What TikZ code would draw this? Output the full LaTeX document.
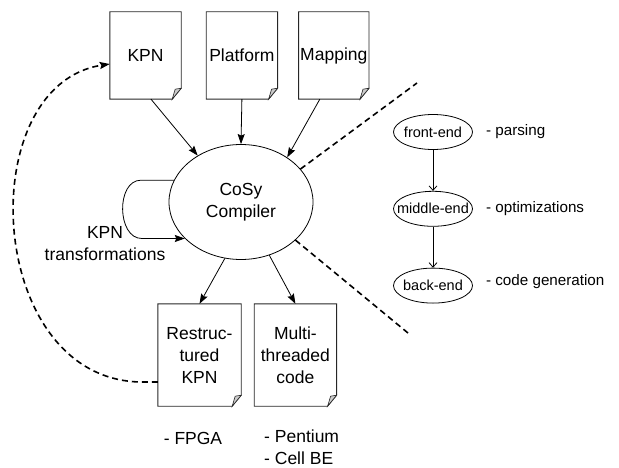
\documentclass[tikz,border=0pt]{standalone}
\usepackage{fontspec}
\setmainfont{Liberation Sans}
\usetikzlibrary{shapes.geometric,arrows.meta,positioning,calc}
\tikzset{
  txt/.style = {inner sep=0pt, align=center, font=\fontsize{17.5pt}{22pt}\selectfont},
  page/.style = {txt, rectangle},
  pageline/.style = {line width=0.9pt, draw=black!85},
  stage/.style = {ellipse, draw, line width=0.8pt, inner sep=0pt, minimum width=79pt, minimum height=35pt},
  note/.style = {inner sep=0pt, font=\fontsize{15.2pt}{18pt}\selectfont},
  every label/.style = {inner sep=0pt, font=\fontsize{14.5pt}{17pt}\selectfont},
  arrow/.style = {line width=0.8pt, -{Stealth[length=10pt,width=7pt,inset=1.5pt]}},
  smallarrow/.style = {line width=0.8pt, -{Straight Barb[length=4.5pt,width=8pt]}},
  feedback/.style = {line width=1.6pt, dash pattern=on 6pt off 4pt}
}
\begin{document}
\begin{tikzpicture}[x=1pt, y=-1pt]
\useasboundingbox (0,0) rectangle (619,468);

% input documents
\node[page, minimum width=71pt, minimum height=87pt] (kpn) at (145.5,55.5) {KPN};
\node[page, minimum width=71pt, minimum height=87pt, right=25pt of kpn] (plat) {Platform};
\node[page, minimum width=70pt, minimum height=87pt, right=21pt of plat] (map) {Mapping};

\node[ellipse, draw, line width=0.8pt, txt, minimum width=144pt, minimum height=115pt] (cosy) at (241,202) {CoSy\\Compiler};

% output documents
\node[page, minimum width=83pt, minimum height=102pt] (rkpn) at (199.5,355) {Restruc-\\tured\\KPN};
\node[page, minimum width=82pt, minimum height=102pt, right=13pt of rkpn] (mtc) {Multi-\\threaded\\code};

\node[txt] (fpga) at (193,438) {- FPGA};
\node[txt, align=left, anchor=west] (cpu) at (264,447.5) {- Pentium\\- Cell BE};
\node[txt] (trans) at (105,244) {KPN\\transformations};

% compiler stages
\node[stage, label=center:front-end] (front) at (433,132) {};
\node[stage, label=center:middle-end, below=41pt of front] (mid) {};
\node[stage, label=center:back-end, below=41pt of mid] (back) {};

\node[note, right=13pt of front] (parse) {- parsing};
\node[note, right=13pt of mid] (opt) {- optimizations};
\node[note, right=13pt of back, yshift=4pt] (gen) {- code generation};

\foreach \d in {kpn,plat,map,rkpn,mtc}{
  \draw[pageline] (\d.north west) -- (\d.north east) -- ([yshift=11pt]\d.south east)
    -- ([xshift=-9pt]\d.south east) -- (\d.south west) -- cycle;
  \draw[pageline, line width=0.6pt, fill=black!20] ([yshift=11pt]\d.south east)
    -- ([xshift=-6pt,yshift=10pt]\d.south east) -- ([xshift=-9pt]\d.south east) -- cycle;
}

\draw[arrow] ([xshift=5.5pt]kpn.south) -- (cosy.133);
\draw[arrow] (plat.south) -- (cosy.north);
\draw[arrow] ([xshift=-14pt]map.south) -- (cosy.44);
\draw[arrow] (cosy.254) -- (rkpn.north);
\draw[arrow] (cosy.298) -- (mtc.north);

\draw[arrow] (cosy.162) -- ++(-33,0) .. controls +(-25,0) and +(-25,0) .. ($(cosy.213)+(-43,0)$) -- (cosy.213);

\draw[feedback, -{Stealth[length=10pt,width=7pt,inset=1.5pt]}] ([yshift=-27pt]rkpn.west) -- ++(-18,0)
  .. controls +(-155,-4) and +(-138,21) .. ([yshift=-8.5pt]kpn.west);

\coordinate (cutup) at (417,83);
\coordinate (cutdown) at (408,333);
\draw[feedback] (cosy.29) -- (cutup);
\draw[feedback] (cosy.325) -- (cutdown);

\draw[smallarrow] (front) -- (mid);
\draw[smallarrow] (mid) -- (back);

\end{tikzpicture}
\end{document}
